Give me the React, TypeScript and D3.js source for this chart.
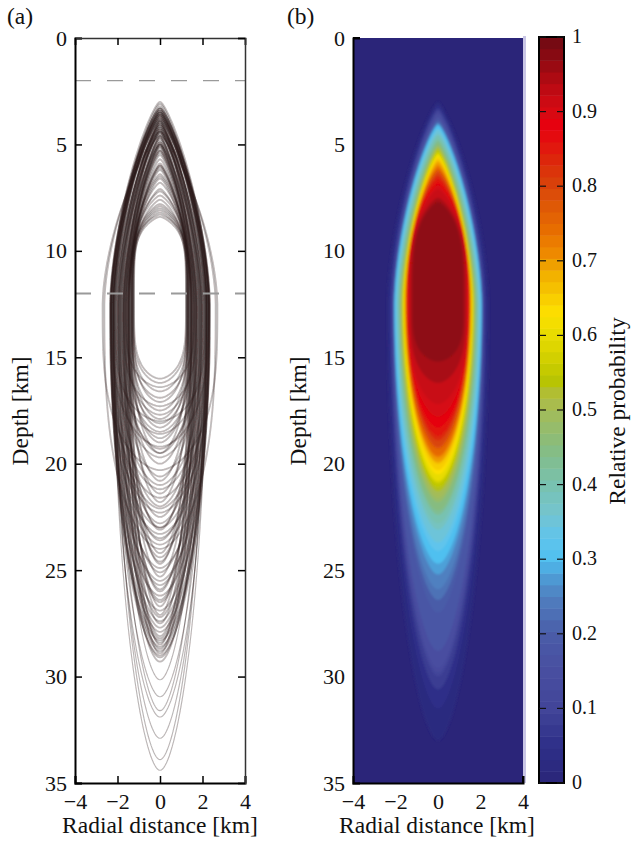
import React, { useEffect, useRef } from "react";
import * as d3 from "d3";

const radialTicks = [-4, -2, 0, 2, 4];
const depthTicks = [0, 5, 10, 15, 20, 25, 30, 35];
const probTicks = [0, 0.1, 0.2, 0.3, 0.4, 0.5, 0.6, 0.7, 0.8, 0.9, 1];
const dashedDepths = [2, 12];

// panel (a): one closed curve per model
const curveBottoms = [
  16.0, 16.2, 16.4, 16.6, 16.9, 17.1, 17.3, 17.5, 17.7, 17.9,
  18.0, 18.1, 18.3, 18.5, 18.6, 18.8, 19.0, 19.2, 19.3, 19.5,
  19.5, 19.7, 20.0, 20.3, 20.6, 20.8, 21.0, 21.2, 21.4, 21.6,
  21.8, 22.0, 22.1, 22.3, 22.5, 22.8, 23.0, 23.0, 23.1, 23.3,
  23.5, 23.6, 23.8, 24.0, 24.2, 24.4, 24.6, 24.7, 24.9, 25.1,
  25.3, 25.5, 25.7, 25.9, 26.0, 26.2, 26.4, 26.5, 26.7, 26.9,
  27.1, 27.2, 27.4, 27.5, 27.7, 27.9, 28.1, 28.2, 28.3, 28.4,
  28.5, 28.6, 28.7, 28.8, 28.9, 29.0, 29.1, 29.3, 30.15, 30.95,
  31.6, 31.9, 32.9, 33.9, 34.4,
];
const curveTops = [
  8.2, 7.6, 3.9, 8.0, 6.6, 8.4, 4.7, 7.1, 5.0, 8.1,
  3.4, 6.2, 7.9, 4.6, 4.3, 7.4, 5.9, 3.6, 4.4, 5.1,
  7.8, 4.0, 6.4, 4.6, 5.3, 7.2, 4.5, 3.7, 6.0, 3.7,
  8.3, 4.9, 3.5, 3.5, 5.0, 4.2, 4.1, 5.4, 6.5, 3.8,
  4.0, 4.4, 3.4, 4.4, 6.1, 4.8, 5.2, 6.8, 3.6, 4.2,
  5.5, 3.9, 3.8, 4.6, 5.1, 3.3, 4.3, 4.0, 5.7, 3.5,
  6.0, 4.3, 3.7, 5.0, 3.6, 3.0, 4.7, 3.9, 3.4, 4.4,
  5.3, 3.8, 4.1, 3.1, 4.9, 3.3, 3.6, 4.1, 5.0, 3.9,
  4.5, 3.3, 3.5, 4.2, 3.2,
];
const curveWidths = [
  1.22, 1.26, 1.6, 1.28, 1.34, 1.24, 1.7, 1.32, 1.55, 1.28,
  2.1, 1.42, 1.3, 1.5, 1.9, 1.36, 1.46, 2.28, 1.8, 1.62,
  1.32, 2.0, 1.5, 2.7, 1.7, 1.38, 1.95, 2.16, 1.45, 2.3,
  1.34, 1.75, 2.2, 2.35, 1.66, 1.85, 2.12, 1.6, 1.44, 2.26,
  1.98, 1.78, 2.2, 2.62, 1.48, 1.72, 1.58, 1.4, 2.3, 2.05,
  1.52, 2.32, 2.16, 1.68, 1.64, 2.34, 1.82, 1.92, 1.5, 2.3,
  1.46, 1.88, 2.2, 1.62, 2.1, 2.3, 1.74, 1.96, 2.32, 1.84,
  1.56, 2.24, 1.9, 2.2, 1.7, 2.28, 2.18, 2.02, 1.95, 2.2,
  2.05, 2.25, 2.15, 2.1, 2.2,
];

// panel (b): outlines of equal probability
const levelValues = [
  0.02, 0.05, 0.08, 0.1, 0.13, 0.15, 0.18, 0.2, 0.23, 0.25, 0.28, 0.3, 0.33, 0.35, 0.38, 0.4,
  0.43, 0.45, 0.48, 0.5, 0.53, 0.55, 0.58, 0.6, 0.63, 0.65, 0.68, 0.7, 0.73, 0.75, 0.78, 0.8,
  0.83, 0.85, 0.88, 0.9, 0.92, 0.95, 0.97,
];
const levelTops = [
  3.0, 3.15, 3.3, 3.4, 3.5, 3.6, 3.75, 3.85, 3.95, 4.0, 4.05, 4.1, 4.25, 4.3, 4.5, 4.6,
  4.8, 4.9, 5.05, 5.1, 5.2, 5.3, 5.4, 5.45, 5.55, 5.6, 5.75, 5.85, 6.0, 6.1, 6.2, 6.3,
  6.45, 6.6, 6.8, 6.9, 7.1, 7.5, 7.7,
];
const levelBottoms = [
  33, 31.5, 30.6, 30, 29.8, 29.6, 28.8, 27, 26.4, 25.9, 25.2, 24.7, 24.1, 23.7, 23.1, 22.8,
  22.4, 22.2, 21.8, 21.6, 21.3, 21.1, 20.9, 20.8, 20.5, 20.3, 20.0, 19.9, 19.7, 19.6, 19.3, 19.2,
  18.9, 18.7, 18.3, 17.8, 17.2, 16.2, 15.2,
];
const levelWidths = [
  2.4, 2.3, 2.22, 2.18, 2.14, 2.12, 2.1, 2.08, 2.07, 2.06, 2.05, 2.05, 2.0, 1.97, 1.92, 1.88,
  1.82, 1.8, 1.76, 1.74, 1.7, 1.68, 1.64, 1.62, 1.6, 1.58, 1.56, 1.55, 1.53, 1.52, 1.5, 1.49,
  1.47, 1.46, 1.44, 1.42, 1.38, 1.3, 1.2,
];
const widestDepth = 12.5;

// colour bar stops, top to bottom
const cmapStops = [1, 0.97, 0.95, 0.92, 0.9, 0.885, 0.86, 0.83, 0.8, 0.77, 0.74, 0.71, 0.69, 0.66, 0.63, 0.6, 0.57, 0.54, 0.52, 0.5, 0.45, 0.4, 0.36, 0.33, 0.3, 0.28, 0.25, 0.2, 0.15, 0.1, 0.05, 0];
const cmapColors = ["#6e0a14", "#8e0a12", "#a80a12", "#c80a14", "#d60a12", "#e6000f", "#e3100f", "#dc2c0a", "#d9440a", "#e05c06", "#e86e00", "#ee8a00", "#f0a800", "#f6c400", "#fde000", "#e8dc00", "#d2d000", "#b8c400", "#b0bd3c", "#a4bc58", "#86bc80", "#78c2b0", "#74c4d0", "#60c4ec", "#50c0f0", "#4da0d8", "#5080c0", "#4a5ca8", "#484ea0", "#424599", "#2e2f88", "#2b2579"];

const serif = "'Liberation Serif', 'Times New Roman', serif";

// closed body: pointed at the top, rounder at the base, small round tips at both ends
function outline(top: number, bottom: number, width: number, lowPow: number) {
  const p = 1.65 + Math.pow(Math.max(0, top - 5), 2) * 0.31;
  const a = 0.07;
  const norm = Math.sqrt(width * width + a * width);
  const round = (r: number) => (Math.sqrt(r * r + a * r) * width) / norm;
  const ts = d3.range(0, 1.0001, 0.025);
  const upper = ts.map((t) => {
    const u = 1 - t * t;
    return { z: widestDepth - u * (widestDepth - top), r: round(width * Math.pow(1 - Math.pow(u, p), 0.8)) };
  });
  const lower = ts.slice(0, -1).reverse().map((t) => {
    const v = 1 - t * t;
    return { z: widestDepth + v * (bottom - widestDepth), r: round(width * Math.pow(1 - Math.pow(v, lowPow), 0.6)) };
  });
  const right = upper.concat(lower);
  const left = right.slice().reverse().map((d) => ({ z: d.z, r: -d.r }));
  return right.concat(left);
}

// shallow bases are flat, deep ones close to an ellipse
const curveBasePow = (b: number) => (b < 19 ? 4 : b < 24 ? 3.2 : Math.max(2, 2.8 - (b - 24) * 0.12));

export default function App() {
  const ref = useRef<SVGSVGElement | null>(null);

  useEffect(() => {
    const svg = d3.select(ref.current);
    svg.selectAll("*").remove();

    const color = d3.scaleLinear<string>().domain(cmapStops).range(cmapColors);
    const y = d3.scaleLinear().domain([0, 35]).range([38, 783]);
    const xA = d3.scaleLinear().domain([-4, 4]).range([75, 245]);
    const xB = d3.scaleLinear().domain([-4, 4]).range([353, 523]);
    const yBar = d3.scaleLinear().domain([0, 1]).range([783, 37]);

    const defs = svg.append("defs");
    defs.append("filter").attr("id", "soft").append("feGaussianBlur").attr("stdDeviation", 0.5);
    defs.append("filter").attr("id", "softer").append("feGaussianBlur").attr("stdDeviation", 1.1);
    defs.append("clipPath").attr("id", "clipB").append("rect")
      .attr("x", xB(-4)).attr("y", y(0)).attr("width", xB(4) - xB(-4)).attr("height", y(35) - y(0));

    // panel (a)
    const lineA = d3.line<{ z: number; r: number }>().x((d) => xA(d.r)).y((d) => y(d.z)).curve(d3.curveLinearClosed);
    svg.append("g").attr("filter", "url(#soft)")
      .selectAll("path")
      .data(d3.range(curveBottoms.length))
      .join("path")
      .attr("d", (i) => lineA(outline(curveTops[i], curveBottoms[i], curveWidths[i], curveBasePow(curveBottoms[i]))))
      .attr("fill", "none")
      .attr("stroke", "#2a1a1a")
      .attr("stroke-width", (i) => (curveBottoms[i] > 29.5 ? 1.1 : 1.8))
      .attr("stroke-opacity", (i) => (curveBottoms[i] > 29.5 ? 0.33 : 0.3));

    svg.append("g").selectAll("line").data(dashedDepths).join("line")
      .attr("x1", xA(-4)).attr("x2", xA(4))
      .attr("y1", (d) => y(d)).attr("y2", (d) => y(d))
      .attr("stroke", "#9a9a9a")
      .attr("stroke-width", (d) => (d === 2 ? 1.2 : 2))
      .attr("stroke-dasharray", "16 16");

    const drawAxes = (x: d3.ScaleLinear<number, number>) => {
      const g = svg.append("g");
      const fmt = (d: d3.NumberValue) => (+d < 0 ? "\u2212" + -d : "" + d);
      const bottom = g.append("g").attr("transform", `translate(0,${y(35)})`)
        .call(d3.axisBottom(x).tickValues(radialTicks).tickFormat(fmt).tickSize(-7).tickPadding(10));
      const left = g.append("g").attr("transform", `translate(${x(-4)},0)`)
        .call(d3.axisLeft(y).tickValues(depthTicks).tickSize(-7).tickPadding(8));
      [bottom, left].forEach((a) => {
        a.selectAll("text").attr("font-family", serif).attr("font-size", 22).attr("fill", "#111");
        a.selectAll(".tick line").attr("stroke", "#000").attr("stroke-width", 1.5);
        a.select(".domain").attr("stroke", "#000").attr("stroke-width", 2);
      });
      return g;
    };

    const axesA = drawAxes(xA);
    axesA.append("g").attr("transform", `translate(0,${y(0)})`)
      .call(d3.axisTop(xA).tickValues(radialTicks).tickFormat(() => "").tickSize(-7))
      .call((a) => a.select(".domain").attr("stroke", "#333").attr("stroke-width", 1.5));
    axesA.append("g").attr("transform", `translate(${xA(4)},0)`)
      .call(d3.axisRight(y).tickValues(depthTicks).tickFormat(() => "").tickSize(-7))
      .call((a) => a.select(".domain").attr("stroke", "#333").attr("stroke-width", 1.5));
    axesA.selectAll(".tick line").attr("stroke", "#000").attr("stroke-width", 1.5);

    // panel (b)
    const lineB = d3.line<{ z: number; r: number }>().x((d) => xB(d.r)).y((d) => y(d.z)).curve(d3.curveLinearClosed);
    svg.append("rect")
      .attr("x", xB(4)).attr("y", y(0) - 2).attr("width", 3).attr("height", y(35) - y(0) + 2)
      .attr("fill", "#c9c6e6");
    const heat = svg.append("g").attr("clip-path", "url(#clipB)");
    heat.append("rect")
      .attr("x", xB(-4)).attr("y", y(0)).attr("width", xB(4) - xB(-4)).attr("height", y(35) - y(0))
      .attr("fill", color(0));
    heat.append("g").attr("filter", "url(#softer)")
      .selectAll("path")
      .data(d3.range(levelValues.length))
      .join("path")
      .attr("d", (i) => lineB(outline(levelTops[i], levelBottoms[i], levelWidths[i], 2 + Math.max(0, 19 - levelBottoms[i]) * 0.5)))
      .attr("fill", (i) => color(levelValues[i]));

    const axesB = drawAxes(xB);
    axesB.selectAll(".tick line").remove();
    const cornerTicks = axesB.append("g").attr("stroke", "#000").attr("stroke-width", 2);
    cornerTicks.append("line").attr("x1", xB(-4)).attr("x2", xB(-4) + 7).attr("y1", y(0)).attr("y2", y(0));
    cornerTicks.append("line").attr("x1", xB(4)).attr("x2", xB(4)).attr("y1", y(35)).attr("y2", y(35) - 7);

    // colour bar, 64 flat steps
    const steps = d3.range(64);
    const barX = 539;
    const barW = 25;
    svg.append("g").selectAll("rect").data(steps).join("rect")
      .attr("x", barX).attr("width", barW)
      .attr("y", (s) => yBar((s + 1) / 64))
      .attr("height", (s) => yBar(s / 64) - yBar((s + 1) / 64) + 0.5)
      .attr("fill", (s) => color((s + 0.5) / 64));
    svg.append("rect")
      .attr("x", barX).attr("y", yBar(1)).attr("width", barW).attr("height", yBar(0) - yBar(1))
      .attr("fill", "none").attr("stroke", "#000").attr("stroke-width", 2);
    const barTicks = svg.append("g").selectAll("g").data(probTicks).join("g");
    barTicks.append("line").attr("x1", barX).attr("x2", barX + 7)
      .attr("y1", (d) => yBar(d)).attr("y2", (d) => yBar(d)).attr("stroke", "#111").attr("stroke-width", 1.2);
    barTicks.append("line").attr("x1", barX + barW - 7).attr("x2", barX + barW)
      .attr("y1", (d) => yBar(d)).attr("y2", (d) => yBar(d)).attr("stroke", "#111").attr("stroke-width", 1.2);
    barTicks.append("text")
      .attr("x", 572).attr("y", (d) => yBar(d) + 6)
      .attr("font-family", serif).attr("font-size", 20).attr("fill", "#111")
      .text((d) => "" + d);

    // titles
    const label = (t: string, px: number, py: number, rot = 0, anchor = "middle") =>
      svg.append("text")
        .attr("transform", `translate(${px},${py}) rotate(${rot})`)
        .attr("text-anchor", anchor)
        .attr("font-family", serif).attr("font-size", 23.5).attr("fill", "#111")
        .text(t);
    label("(a)", 7, 24, 0, "start");
    label("(b)", 287, 24, 0, "start");
    label("Radial distance [km]", 160, 833);
    label("Radial distance [km]", 437, 833);
    label("Depth [km]", 28, 411, -90);
    label("Depth [km]", 306, 411, -90);
    label("Relative probability", 625, 411, -90);
  }, []);

  return (
    <svg
      ref={ref}
      width={631}
      height={841}
      style={{ position: "absolute", left: 0, top: 0, display: "block", background: "#fff" }}
    />
  );
}
